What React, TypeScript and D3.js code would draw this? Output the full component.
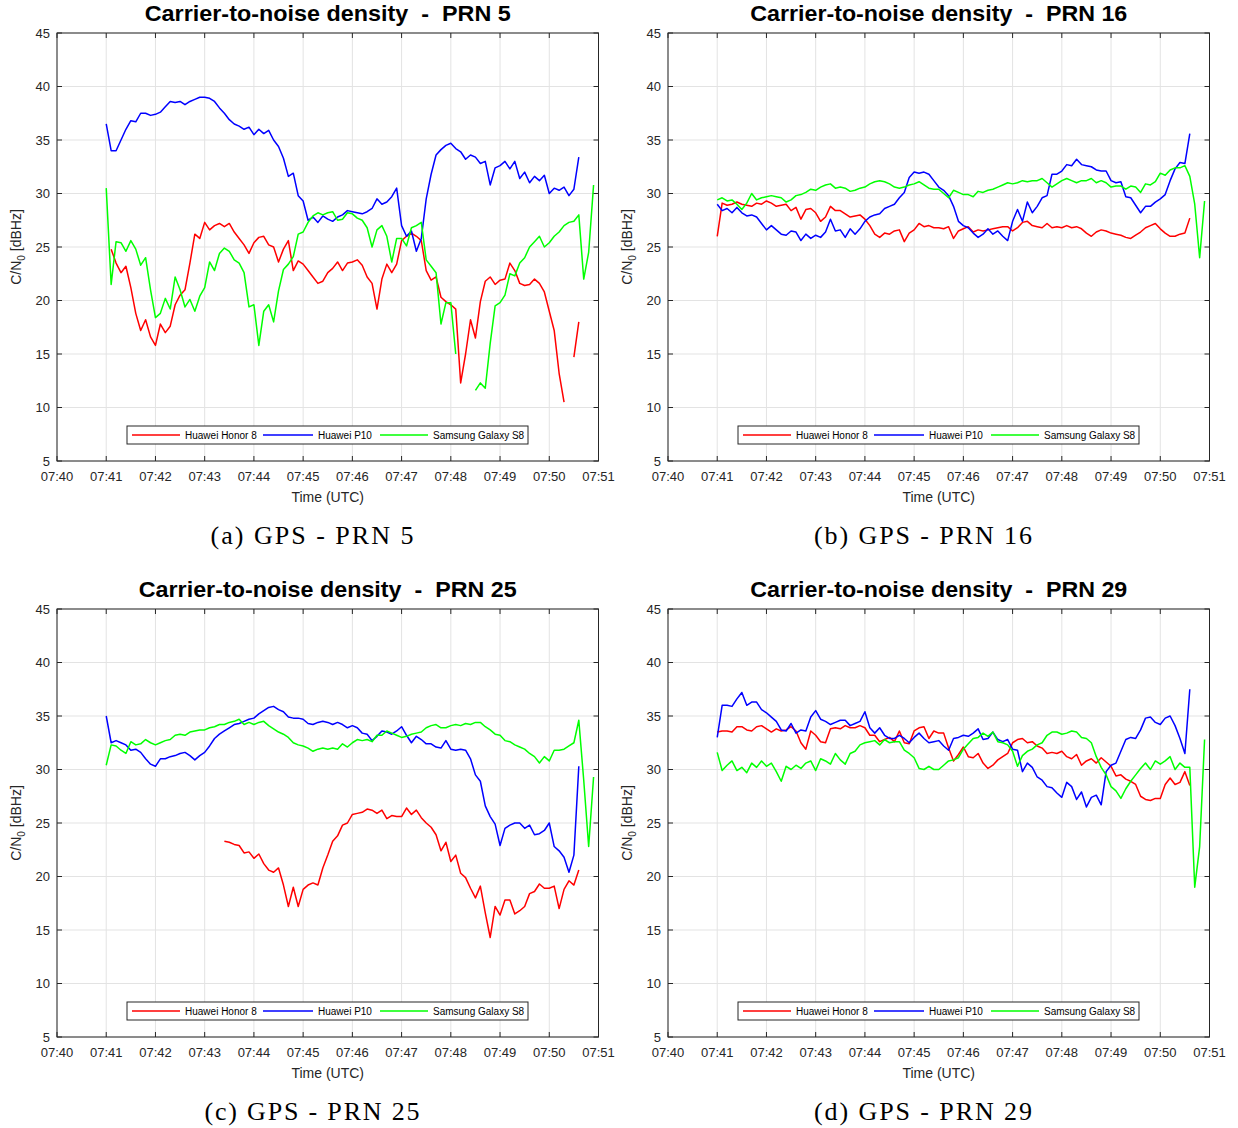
import React from "react";
import * as d3 from "d3";

// ---------- data ----------
const TIME_LABELS = ["07:40", "07:41", "07:42", "07:43", "07:44", "07:45", "07:46", "07:47", "07:48", "07:49", "07:50", "07:51"];
const Y_TICKS = [5, 10, 15, 20, 25, 30, 35, 40, 45];
const DEVICES = ["Huawei Honor 8", "Huawei P10", "Samsung Galaxy S8"];
const COLORS = ["#ff0000", "#0000ff", "#00ff00"];
const PRNS = ["5", "16", "25", "29"];
const LETTERS = ["a", "b", "c", "d"];
const STEP_S = 6; // seconds between samples
const START_S = 60; // 07:41:00, seconds after 07:40:00
const HONOR_C_START_S = 204; // 07:43:24

// PRN 5
const honorA = [null, 24.8, 23.5, 22.6, 23.2, 21.2, 18.8, 17.2, 18.2, 16.6,
  15.8, 17.8, 17.0, 17.6, 19.6, 20.5, 21.0, 23.5, 26.2, 25.8,
  27.3, 26.6, 27.0, 27.2, 26.9, 27.2, 26.4, 25.8, 25.2, 24.4,
  25.4, 25.9, 26.0, 25.2, 25.0, 23.6, 24.8, 25.6, 22.8, 23.7,
  23.4, 22.8, 22.2, 21.6, 21.8, 22.6, 23.0, 23.6, 22.8, 23.5,
  23.6, 23.8, 23.3, 22.2, 21.6, 19.2, 22.0, 23.4, 22.6, 23.4,
  25.6, 26.0, 26.3, 26.0, 25.6, 22.8, 21.9, 22.2, 20.3, 19.9,
  19.6, 19.2, 12.3, 15.0, 18.2, 16.5, 19.9, 21.8, 22.2, 21.5,
  21.9, 22.0, 23.5, 22.8, 21.6, 21.4, 21.5, 22.0, 21.6, 20.8,
  19.0, 17.2, 13.2, 10.5, null, 14.7, 18.0];
const p10A = [36.5, 34.0, 34.0, 35.0, 36.0, 36.8, 36.7, 37.5, 37.5, 37.3,
  37.4, 37.6, 38.1, 38.6, 38.5, 38.6, 38.3, 38.6, 38.8, 39.0,
  39.0, 38.9, 38.6, 38.0, 37.5, 36.9, 36.5, 36.3, 36.0, 36.2,
  35.5, 36.0, 35.6, 35.9, 35.0, 34.4, 33.3, 31.6, 31.9, 29.8,
  29.3, 27.5, 27.8, 27.3, 27.9, 27.6, 27.4, 27.8, 28.0, 28.4,
  28.3, 28.2, 28.1, 28.3, 28.6, 29.5, 29.0, 29.2, 29.7, 30.5,
  27.0, 26.0, 26.5, 24.6, 25.8, 29.5, 31.8, 33.6, 34.1, 34.5,
  34.7, 34.2, 33.9, 33.2, 33.6, 33.4, 32.8, 33.0, 30.8, 32.4,
  32.6, 33.0, 32.3, 33.0, 31.4, 32.0, 31.0, 31.6, 31.2, 31.7,
  30.0, 30.5, 30.3, 30.6, 29.8, 30.4, 33.4];
const s8A = [30.5, 21.5, 25.5, 25.4, 24.6, 25.6, 24.8, 23.3, 24.0, 21.0,
  18.4, 18.8, 20.2, 19.2, 22.2, 21.0, 19.4, 20.1, 19.0, 20.4,
  21.2, 23.6, 22.8, 24.4, 24.9, 24.6, 23.8, 23.5, 22.6, 19.4,
  19.6, 15.8, 19.0, 19.6, 18.0, 20.9, 22.9, 23.4, 24.1, 26.2,
  26.4, 27.3, 27.9, 28.2, 28.0, 28.2, 28.3, 27.5, 27.6, 28.2,
  28.1, 27.7, 27.5, 26.8, 25.0, 26.6, 27.0, 26.0, 23.6, 25.8,
  25.8, 25.1, 26.8, 27.0, 27.3, 23.8, 23.2, 22.6, 17.8, 19.8,
  19.8, 15.0, null, null, null, 11.6, 12.3, 11.8, 16.0, 19.5,
  19.8, 20.5, 22.5, 22.3, 23.5, 24.0, 25.0, 25.5, 26.0, 25.0,
  25.4, 26.0, 26.4, 27.0, 27.3, 27.4, 28.0, 22.0, 24.5, 30.8];

// PRN 16
const honorB = [26.0, 29.1, 28.9, 29.0, 29.2, 29.0, 28.9, 28.8, 29.1, 29.0,
  29.3, 29.1, 28.8, 28.9, 29.0, 28.4, 28.7, 27.6, 28.5, 28.6,
  28.2, 27.4, 27.8, 28.8, 28.4, 28.4, 28.1, 27.8, 27.9, 28.0,
  27.6, 27.0, 26.2, 25.9, 26.3, 26.2, 26.5, 26.6, 25.5, 26.3,
  26.6, 27.2, 26.9, 27.0, 26.8, 26.8, 26.7, 26.9, 25.8, 26.5,
  26.7, 26.9, 26.4, 26.6, 26.5, 26.6, 26.7, 26.8, 26.9, 26.9,
  26.5, 26.8, 27.3, 27.4, 27.0, 26.9, 26.8, 27.2, 26.8, 26.9,
  26.8, 27.0, 26.8, 26.9, 26.7, 26.3, 26.0, 26.4, 26.6, 26.5,
  26.3, 26.2, 26.1, 25.9, 25.8, 26.1, 26.4, 26.8, 27.0, 27.2,
  26.7, 26.3, 26.0, 26.0, 26.2, 26.3, 27.7];
const p10B = [29.0, 28.4, 28.6, 28.2, 28.7, 28.2, 27.9, 28.0, 27.8, 27.2,
  26.6, 27.0, 26.6, 26.2, 26.1, 26.5, 26.4, 25.6, 26.2, 25.8,
  26.1, 25.9, 26.4, 27.6, 26.5, 26.6, 25.9, 26.7, 26.2, 26.7,
  27.4, 27.8, 28.0, 28.1, 28.6, 28.8, 29.0, 29.6, 30.1, 31.5,
  32.0, 31.9, 32.0, 31.8, 31.2, 30.6, 30.3, 29.8, 28.8, 27.4,
  27.0, 26.8, 26.3, 25.9, 26.2, 26.7, 26.2, 26.5, 26.0, 25.6,
  27.4, 28.5, 27.4, 29.2, 28.2, 28.8, 29.6, 29.8, 31.8, 31.8,
  32.1, 32.7, 32.6, 33.2, 32.7, 32.6, 32.5, 32.2, 32.1, 32.1,
  31.2, 31.0, 31.1, 29.7, 29.6, 28.9, 28.2, 28.8, 28.8, 29.2,
  29.5, 29.9, 31.2, 32.3, 32.9, 32.8, 35.6];
const s8B = [29.4, 29.6, 29.3, 29.4, 29.0, 28.5, 29.1, 30.0, 29.4, 29.6,
  29.7, 29.8, 29.7, 29.6, 29.2, 29.4, 29.8, 29.9, 30.1, 30.4,
  30.3, 30.6, 30.8, 30.9, 30.5, 30.6, 30.5, 30.2, 30.3, 30.5,
  30.6, 30.9, 31.1, 31.2, 31.1, 30.9, 30.6, 30.5, 30.6, 30.8,
  30.9, 31.1, 30.8, 30.5, 30.4, 30.4, 30.0, 29.6, 30.3, 30.1,
  29.9, 29.9, 29.7, 30.2, 30.1, 30.3, 30.4, 30.6, 30.8, 31.0,
  30.9, 31.0, 31.2, 31.1, 31.2, 31.2, 31.4, 31.0, 30.6, 30.9,
  31.2, 31.4, 31.2, 31.0, 31.2, 31.2, 31.4, 31.0, 31.2, 31.0,
  30.6, 30.7, 30.7, 30.4, 30.7, 30.6, 30.1, 30.9, 30.8, 31.1,
  31.9, 31.7, 32.2, 32.4, 32.4, 32.6, 31.6, 29.0, 24.0, 29.3];

// PRN 25
const honorC = [23.3, 23.2, 23.0, 22.9, 22.2, 22.3, 21.7, 22.1, 21.2, 20.6,
  20.4, 20.8, 19.2, 17.2, 19.0, 17.2, 18.8, 19.2, 19.4, 19.2,
  20.8, 22.0, 23.3, 23.8, 24.8, 25.0, 25.8, 25.9, 26.0, 26.3,
  26.2, 25.9, 26.2, 25.4, 25.7, 25.6, 25.6, 26.4, 25.8, 26.2,
  25.5, 25.0, 24.6, 23.9, 22.4, 23.2, 21.4, 22.0, 20.3, 19.9,
  18.9, 18.0, 19.1, 16.6, 14.3, 17.2, 16.4, 17.8, 17.8, 16.5,
  16.8, 17.2, 18.4, 18.6, 19.3, 18.9, 18.9, 19.1, 17.0, 18.8,
  19.6, 19.2, 20.6];
const p10C = [35.0, 32.5, 32.7, 32.5, 32.3, 31.8, 31.9, 31.6, 31.0, 30.5,
  30.3, 31.0, 31.0, 31.2, 31.3, 31.5, 31.6, 31.3, 30.9, 31.3,
  31.6, 32.2, 32.9, 33.3, 33.6, 33.9, 34.2, 34.3, 34.5, 34.7,
  34.8, 35.2, 35.5, 35.8, 35.9, 35.6, 35.4, 34.9, 34.8, 34.8,
  34.7, 34.3, 34.2, 34.4, 34.5, 34.4, 34.2, 34.4, 34.2, 33.9,
  34.1, 33.9, 33.4, 33.3, 32.7, 33.1, 33.6, 33.5, 33.3, 33.6,
  34.0, 33.2, 32.5, 33.1, 32.8, 32.4, 32.4, 32.1, 32.0, 32.7,
  31.9, 31.8, 31.9, 31.8, 31.0, 29.5, 28.9, 26.6, 25.6, 24.9,
  22.9, 24.5, 24.8, 25.0, 25.0, 24.5, 24.8, 23.9, 24.0, 24.3,
  25.0, 22.8, 22.4, 21.8, 20.4, 22.0, 30.3];
const s8C = [30.4, 32.3, 32.2, 31.8, 31.5, 32.6, 32.3, 32.4, 32.8, 32.5,
  32.3, 32.5, 32.7, 32.8, 33.2, 33.3, 33.2, 33.5, 33.6, 33.7,
  33.7, 33.9, 34.0, 34.2, 34.2, 34.4, 34.5, 34.7, 34.2, 34.4,
  34.2, 34.4, 34.5, 34.1, 33.8, 33.5, 33.3, 33.0, 32.5, 32.3,
  32.2, 32.0, 31.7, 31.9, 32.0, 31.9, 32.0, 31.9, 32.4, 32.1,
  32.5, 32.8, 32.7, 32.8, 32.6, 33.2, 33.2, 33.6, 33.4, 33.2,
  33.0, 33.1, 33.3, 33.4, 33.5, 33.9, 34.1, 34.2, 33.9, 33.9,
  34.1, 34.2, 34.1, 34.3, 34.2, 34.4, 34.4, 34.0, 33.7, 33.3,
  33.2, 32.7, 32.6, 32.3, 32.1, 31.9, 31.5, 31.2, 30.6, 31.2,
  30.8, 31.8, 31.8, 31.9, 32.2, 32.5, 34.6, 29.0, 22.8, 29.3];

// PRN 29
const honorD = [33.5, 33.6, 33.6, 33.5, 34.0, 34.0, 33.7, 33.6, 34.0, 34.1,
  33.8, 33.5, 33.8, 33.6, 33.7, 34.0, 33.6, 32.5, 31.9, 33.6,
  33.2, 32.6, 32.5, 33.8, 33.9, 33.8, 34.1, 33.9, 33.9, 34.1,
  33.9, 33.2, 33.2, 32.6, 32.8, 33.0, 32.6, 33.6, 32.5, 32.4,
  33.6, 33.9, 34.0, 32.9, 33.6, 33.4, 33.4, 32.0, 30.8, 31.4,
  32.1, 31.2, 31.1, 31.5, 30.6, 30.1, 30.4, 30.9, 31.2, 31.5,
  32.5, 32.8, 32.9, 32.5, 32.6, 32.2, 32.0, 31.5, 31.6, 31.5,
  31.7, 31.2, 31.0, 31.4, 30.4, 30.8, 31.0, 30.6, 31.1, 30.7,
  30.3, 29.4, 29.5, 29.1, 28.9, 28.6, 27.5, 27.2, 27.1, 27.3,
  27.3, 28.6, 29.2, 28.6, 28.8, 29.8, 28.5];
const p10D = [33.0, 36.0, 36.0, 35.9, 36.6, 37.2, 36.0, 36.3, 36.3, 35.6,
  35.3, 34.9, 34.5, 33.7, 33.6, 34.3, 33.4, 33.7, 33.6, 34.9,
  35.5, 34.7, 34.5, 34.2, 34.4, 34.6, 34.6, 34.1, 34.3, 34.5,
  35.4, 33.9, 33.4, 33.9, 33.2, 32.9, 32.9, 33.2, 32.9, 32.5,
  33.0, 33.4, 32.9, 32.5, 32.6, 32.7, 32.2, 31.8, 32.9, 33.0,
  33.2, 33.1, 33.4, 33.8, 32.8, 32.9, 33.5, 32.8, 32.6, 32.8,
  31.9, 31.8, 29.8, 30.6, 30.2, 29.3, 29.0, 28.4, 28.3, 27.8,
  27.4, 28.8, 28.4, 27.2, 27.9, 26.5, 27.4, 27.6, 26.7, 29.8,
  30.4, 30.6, 31.7, 32.8, 33.0, 32.9, 33.7, 34.8, 34.9, 34.4,
  34.2, 34.8, 35.0, 34.1, 32.9, 31.5, 37.5];
const s8D = [31.6, 29.9, 30.4, 30.8, 29.9, 30.2, 29.7, 30.6, 30.2, 30.8,
  30.3, 30.6, 29.8, 28.9, 30.3, 30.0, 30.4, 30.1, 30.6, 30.8,
  29.9, 31.0, 30.8, 30.5, 31.5, 30.9, 30.5, 31.5, 31.7, 32.3,
  32.5, 32.6, 32.7, 32.3, 32.8, 32.5, 32.6, 32.6, 31.8, 31.5,
  31.1, 30.1, 30.0, 30.3, 30.0, 30.0, 30.4, 30.8, 30.9, 31.1,
  31.9, 32.4, 32.9, 33.0, 33.4, 33.1, 33.5, 32.6, 32.5, 32.3,
  31.7, 30.3, 31.3, 31.7, 31.9, 32.3, 32.5, 33.2, 33.5, 33.5,
  33.3, 33.4, 33.6, 33.5, 33.0, 32.9, 32.5, 31.2, 30.2, 29.5,
  28.4, 28.0, 27.3, 28.2, 28.9, 29.5, 30.1, 30.6, 30.0, 30.8,
  30.5, 30.8, 31.2, 30.0, 30.6, 30.2, 30.2, 19.0, 22.8, 32.8];

type Series = { values: (number | null)[]; start: number };

const PANEL_SERIES: Series[][] = [
  [{ values: honorA, start: START_S }, { values: p10A, start: START_S }, { values: s8A, start: START_S }],
  [{ values: honorB, start: START_S }, { values: p10B, start: START_S }, { values: s8B, start: START_S }],
  [{ values: honorC, start: HONOR_C_START_S }, { values: p10C, start: START_S }, { values: s8C, start: START_S }],
  [{ values: honorD, start: START_S }, { values: p10D, start: START_S }, { values: s8D, start: START_S }],
];

// ---------- layout ----------
const W = 1238;
const H = 1128;
const PLOT_LEFT = [57, 668];
const PLOT_TOP = [33, 609];
const PLOT_W = 541.5;
const PLOT_H = 428;
const TITLE_W = [366, 377, 378, 377];
const CAPTION_W = [203, 218, 215, 218];
const SANS = "'Liberation Sans', Arial, Helvetica, sans-serif";
const SERIF = "'Liberation Serif', 'Times New Roman', serif";
const AXIS_COLOR = "#262626";
const GRID_COLOR = "#e3e3e3";

function Panel({ idx }: { idx: number }) {
  const left = PLOT_LEFT[idx % 2];
  const top = PLOT_TOP[Math.floor(idx / 2)];
  const right = left + PLOT_W;
  const bottom = top + PLOT_H;
  const x = d3.scaleLinear().domain([0, 660]).range([left, right]);
  const y = d3.scaleLinear().domain([5, 45]).range([bottom, top]);
  const xTicks = TIME_LABELS.map((_, i) => i * 60);
  const cx = (left + right) / 2;
  const tick = 5;

  const series = PANEL_SERIES[idx];
  const paths = series.map((s) =>
    d3
      .line<number | null>()
      .defined((v) => v != null)
      .x((_, i) => x(s.start + i * STEP_S))
      .y((v) => y(v as number))(s.values) || ""
  );

  const legX = left + 70;
  const legY = bottom - 35;
  const legItems = [
    { x1: 5, x2: 53, tx: 58 },
    { x1: 136, x2: 186, tx: 191 },
    { x1: 253, x2: 301, tx: 306 },
  ];

  return (
    <g>
      {/* grid */}
      {xTicks.map((t) => (
        <line key={"gx" + t} x1={x(t)} x2={x(t)} y1={top} y2={bottom} stroke={GRID_COLOR} strokeWidth={1} />
      ))}
      {Y_TICKS.map((v) => (
        <line key={"gy" + v} x1={left} x2={right} y1={y(v)} y2={y(v)} stroke={GRID_COLOR} strokeWidth={1} />
      ))}
      {/* data */}
      {paths.map((d, i) => (
        <path key={"p" + i} d={d} fill="none" stroke={COLORS[i]} strokeWidth={1.5} strokeLinejoin="round" />
      ))}
      {/* box */}
      <rect x={left} y={top} width={PLOT_W} height={PLOT_H} fill="none" stroke={AXIS_COLOR} strokeWidth={1} />
      {xTicks.map((t) => (
        <g key={"tx" + t}>
          <line x1={x(t)} x2={x(t)} y1={bottom} y2={bottom - tick} stroke={AXIS_COLOR} />
          <line x1={x(t)} x2={x(t)} y1={top} y2={top + tick} stroke={AXIS_COLOR} />
        </g>
      ))}
      {Y_TICKS.map((v) => (
        <g key={"ty" + v}>
          <line x1={left} x2={left + tick} y1={y(v)} y2={y(v)} stroke={AXIS_COLOR} />
          <line x1={right} x2={right - tick} y1={y(v)} y2={y(v)} stroke={AXIS_COLOR} />
        </g>
      ))}
      {/* tick labels */}
      {xTicks.map((t, i) => (
        <text key={"lx" + t} x={x(t)} y={bottom + 20} textAnchor="middle" fontSize={13} fontFamily={SANS} fill={AXIS_COLOR}>
          {TIME_LABELS[i]}
        </text>
      ))}
      {Y_TICKS.map((v) => (
        <text key={"ly" + v} x={left - 7} y={y(v) + 4.5} textAnchor="end" fontSize={13} fontFamily={SANS} fill={AXIS_COLOR}>
          {v}
        </text>
      ))}
      {/* axis labels */}
      <text x={cx} y={bottom + 41} textAnchor="middle" fontSize={14} fontFamily={SANS} fill={AXIS_COLOR}>
        Time (UTC)
      </text>
      <text
        transform={`translate(${left - 36},${(top + bottom) / 2}) rotate(-90)`}
        textAnchor="middle"
        fontSize={14}
        fontFamily={SANS}
        fill={AXIS_COLOR}
      >
        C/N<tspan fontSize={10} dy={4}>0</tspan>
        <tspan dy={-4}> [dBHz]</tspan>
      </text>
      {/* title */}
      <text
        x={cx}
        y={top - 12}
        textAnchor="middle"
        fontSize={21.5}
        fontWeight="bold"
        fontFamily={SANS}
        fill="#000"
        textLength={TITLE_W[idx]}
        lengthAdjust="spacingAndGlyphs"
        style={{ whiteSpace: "pre" }}
      >
        {`Carrier-to-noise density  -  PRN ${PRNS[idx]}`}
      </text>
      {/* legend */}
      <rect x={legX} y={legY} width={401} height={18} fill="#fff" stroke={AXIS_COLOR} strokeWidth={1} />
      {legItems.map((it, i) => (
        <g key={"lg" + i}>
          <line x1={legX + it.x1} x2={legX + it.x2} y1={legY + 9} y2={legY + 9} stroke={COLORS[i]} strokeWidth={1.5} />
          <text x={legX + it.tx} y={legY + 12.5} fontSize={10} fontFamily={SANS} fill="#000">
            {DEVICES[i]}
          </text>
        </g>
      ))}
      {/* caption */}
      <text
        x={left + 255}
        y={bottom + 83}
        textAnchor="middle"
        fontSize={26}
        fontFamily={SERIF}
        fill="#000"
        textLength={CAPTION_W[idx]}
        lengthAdjust="spacing"
      >
        {`(${LETTERS[idx]}) GPS - PRN ${PRNS[idx]}`}
      </text>
    </g>
  );
}

export default function App() {
  return (
    <svg
      width={W}
      height={H}
      viewBox={`0 0 ${W} ${H}`}
      style={{ position: "absolute", left: 0, top: 0, background: "#fff" }}
    >
      <rect x={0} y={0} width={W} height={H} fill="#fff" />
      {[0, 1, 2, 3].map((i) => (
        <Panel key={i} idx={i} />
      ))}
    </svg>
  );
}
